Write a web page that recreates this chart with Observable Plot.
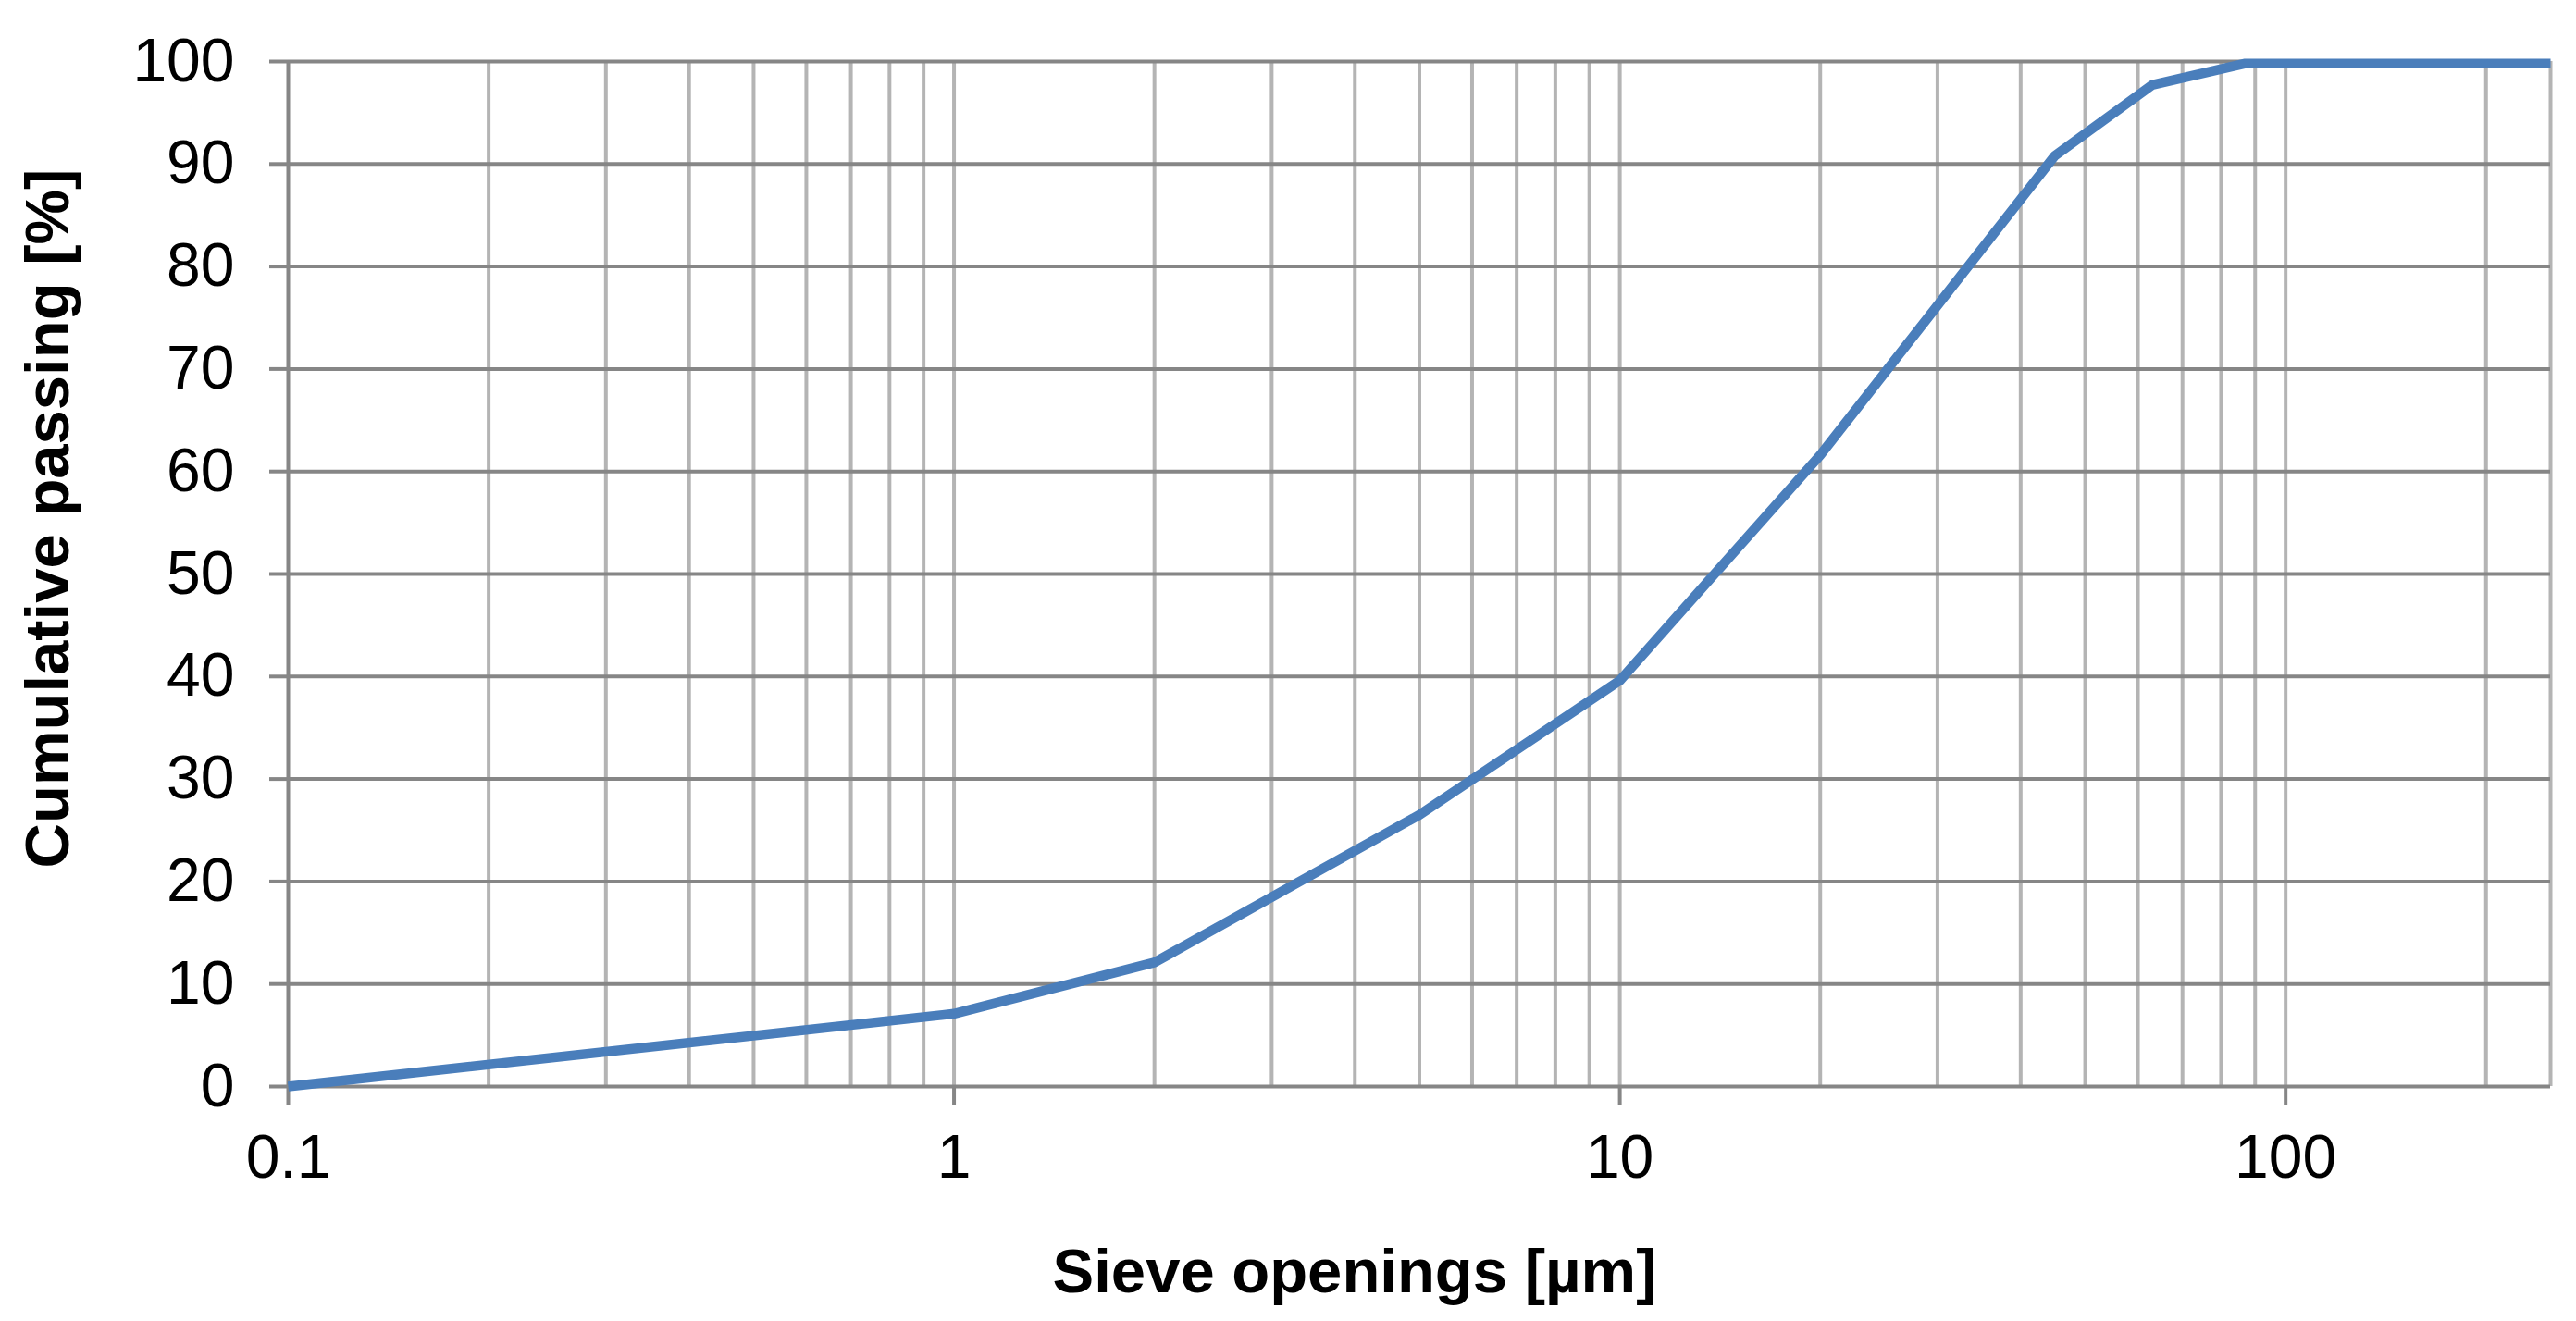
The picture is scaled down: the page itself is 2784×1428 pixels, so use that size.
<!DOCTYPE html>
<html>
<head>
<meta charset="utf-8">
<script src="https://cdn.jsdelivr.net/npm/d3@7"></script>
<script src="https://cdn.jsdelivr.net/npm/@observablehq/plot@0.6"></script>
<style>
  html, body { margin: 0; padding: 0; background: #fff; overflow: hidden; }
</style>
</head>
<body>
<div id="chart"></div>
<script>
// Sieve openings [µm] and cumulative passing [%]
const sieve   = [0.1, 1, 2, 5, 10, 20, 45, 63, 87, 250];
const passing = [0, 7.1, 12.1, 26.5, 39.6, 61.6, 90.8, 97.7, 99.8, 99.8];

// Tick labels
const yTicks = [0, 10, 20, 30, 40, 50, 60, 70, 80, 90, 100];
const xTicks = [0.1, 1, 10, 100];
// Minor (log) gridline values
const xGrid = [0.2, 0.3, 0.4, 0.5, 0.6, 0.7, 0.8, 0.9,
               1, 2, 3, 4, 5, 6, 7, 8, 9,
               10, 20, 30, 40, 50, 60, 70, 80, 90,
               100, 200, 250];

const xTitle = "Sieve openings [µm]";
const yTitle = "Cumulative passing [%]";

const data = sieve.map((s, i) => ({size: s, pass: passing[i]}));

const font = "'Liberation Sans', Arial, Helvetica, sans-serif";
const dark = "#868686";
const light = "#b4b4b4";

const chart = Plot.plot({
  width: 2784,
  height: 1428,
  marginLeft: 311,
  marginRight: 28,
  marginTop: 66,
  marginBottom: 254,
  style: {fontFamily: font, background: "#fff", color: "#000"},
  x: {type: "log", domain: [0.1, 250]},
  y: {domain: [0, 100]},
  marks: [
    Plot.ruleX(xGrid, {stroke: light, strokeWidth: 4}),
    Plot.ruleY(yTicks, {stroke: dark, strokeWidth: 4}),
    Plot.ruleX([0.1], {stroke: dark, strokeWidth: 4}),
    Plot.axisX({ticks: xTicks, tickFormat: d => String(d), tickSize: 20, tickPadding: 32,
                fontSize: 66, stroke: dark, strokeWidth: 4, fill: "#000", label: null}),
    Plot.axisY({ticks: yTicks, tickFormat: d => String(d), tickSize: 20, tickPadding: 38,
                fontSize: 66, stroke: dark, strokeWidth: 4, fill: "#000", label: null}),
    Plot.line(data, {x: "size", y: "pass", stroke: "#4a7ebb", strokeWidth: 10.5,
                     strokeLinejoin: "miter", strokeLinecap: "butt"}),
    Plot.text([xTitle], {frameAnchor: "bottom", dx: -70, dy: 201, fontSize: 67,
                         fontWeight: "bold", fill: "#000", lineAnchor: "middle", textAnchor: "middle"}),
    Plot.text([yTitle], {frameAnchor: "left", rotate: -90, dx: -259, dy: -60, fontSize: 67,
                         fontWeight: "bold", fill: "#000", lineAnchor: "middle", textAnchor: "middle"})
  ]
});
document.getElementById("chart").appendChild(chart);
</script>
</body>
</html>
